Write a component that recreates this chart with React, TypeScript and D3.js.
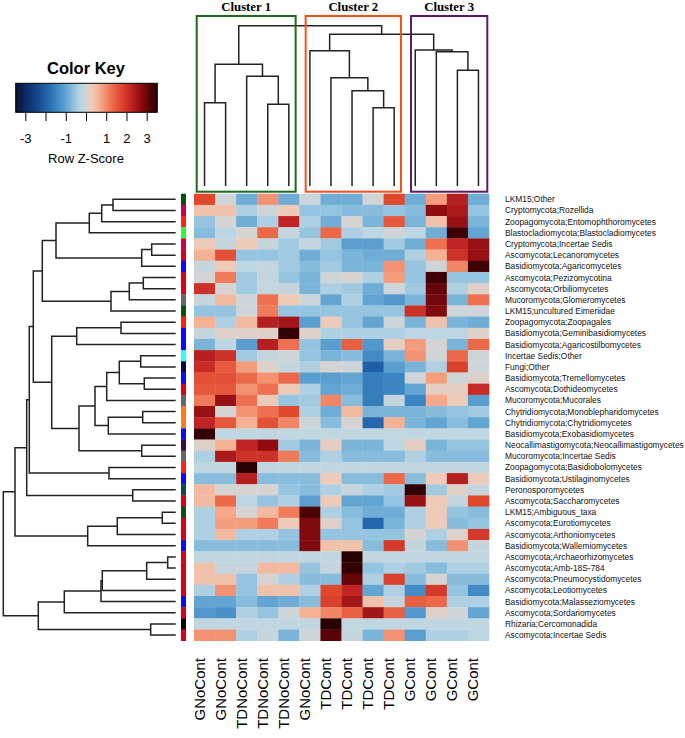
import React from 'react';
import * as d3 from 'd3';

const W = 685;
const H = 738;

const colLabels = ['GNoCont', 'GNoCont', 'TDNoCont', 'TDNoCont', 'TDNoCont', 'GNoCont', 'TDCont', 'TDCont', 'TDCont', 'TDCont', 'GCont', 'GCont', 'GCont', 'GCont'];

const rowLabels = [
  'LKM15;Other', 'Cryptomycota;Rozellida', 'Zoopagomycota;Entomophthoromycetes', 'Blastocladiomycota;Blastocladiomycetes',
  'Cryptomycota;Incertae Sedis', 'Ascomycota;Lecanoromycetes', 'Basidiomycota;Agaricomycetes', 'Ascomycota;Pezizomycotina',
  'Ascomycota;Orbiliomycetes', 'Mucoromycota;Glomeromycetes', 'LKM15;uncultured Eimeriidae', 'Zoopagomycota;Zoopagales',
  'Basidiomycota;Geminibasidiomycetes', 'Basidiomycota;Agaricostilbomycetes', 'Incertae Sedis;Other', 'Fungi;Other',
  'Basidiomycota;Tremellomycetes', 'Ascomycota;Dothideomycetes', 'Mucoromycota;Mucorales', 'Chytridiomycota;Monoblepharidomycetes',
  'Chytridiomycota;Chytridiomycetes', 'Basidiomycota;Exobasidiomycetes', 'Neocallimastigomycota;Neocallimastigomycetes', 'Mucoromycota;Incertae Sedis',
  'Zoopagomycota;Basidiobolomycetes', 'Basidiomycota;Ustilaginomycetes', 'Peronosporomycetes', 'Ascomycota;Saccharomycetes',
  'LKM15;Ambiguous_taxa', 'Ascomycota;Eurotiomycetes', 'Ascomycota;Arthoniomycetes', 'Basidiomycota;Wallemiomycetes',
  'Ascomycota;Archaeorhizomycetes', 'Ascomycota;Amb-18S-784', 'Ascomycota;Pneumocystidomycetes', 'Ascomycota;Leotiomycetes',
  'Basidiomycota;Malasseziomycetes', 'Ascomycota;Sordariomycetes', 'Rhizaria;Cercomonadida', 'Ascomycota;Incertae Sedis',
];

// phylum -> side bar colour
const groupColors: Record<string, string> = {
  'LKM15': '#0b4d13',
  'Cryptomycota': '#d5004d',
  'Zoopagomycota': '#ff2412',
  'Blastocladiomycota': '#2cff2c',
  'Ascomycota': '#d8001a',
  'Basidiomycota': '#0a0aff',
  'Mucoromycota': '#666666',
  'Incertae Sedis': '#2bffff',
  'Fungi': '#0a0a3a',
  'Chytridiomycota': '#ff7a1a',
  'Neocallimastigomycota': '#3a0a45',
  'Peronosporomycetes': '#0b4a45',
  'Rhizaria': '#000000',
};

// row z-scores, one row per taxon, columns in colLabels order
const zScores = [
  [1.7, -0.1, -0.9, 0.9, -0.9, -0.1, -0.9, -0.9, -0.1, 1.7, -0.9, 0.8, 2.3, -0.9],
  [0.4, 0.4, -0.4, -0.1, 0.3, -0.6, -0.6, -0.7, -0.7, -0.6, -0.7, 2.7, 2.4, -0.6],
  [-0.6, 0.0, -0.9, -0.4, 2.2, -0.4, -0.9, 0.0, -0.8, 1.5, -0.8, 0.4, 2.6, -0.8],
  [-0.7, -0.3, 0.0, 1.3, -0.2, -0.6, 1.3, -0.4, -0.3, -0.1, -0.3, -0.9, 3.3, -1.0],
  [0.3, -0.2, 0.3, -0.2, -0.5, -0.2, -0.5, -1.1, -1.1, -0.5, -0.9, 1.2, 2.2, 2.6],
  [0.6, 1.6, -0.6, -0.6, -0.5, -0.9, -0.6, -0.8, -0.9, -0.9, -0.4, 0.6, 2.0, 2.6],
  [-0.2, 0.3, -0.3, -0.2, -0.5, -0.7, -0.5, -0.8, -0.8, 0.9, -0.6, -0.1, 1.0, 3.3],
  [0.0, 1.1, -0.5, -0.2, -0.6, -0.8, -0.1, 0.0, -0.4, 0.8, -0.6, 3.3, -0.6, -0.6],
  [2.0, 0.0, -0.5, -0.2, -0.2, -0.8, -0.4, -0.5, -0.9, -0.1, -0.5, 3.0, -0.4, 0.1],
  [-0.2, 0.5, -0.1, 1.2, 0.3, -0.1, -1.0, -0.4, -1.0, -1.2, -0.8, 2.9, -0.8, 1.2],
  [-0.6, -0.6, -0.1, 1.1, -0.6, -0.6, -0.6, -0.6, -0.6, -0.6, 2.0, 2.8, -0.1, -0.1],
  [0.6, -0.4, 0.5, 2.3, 2.5, -1.1, 0.3, -0.6, -1.0, -0.1, -0.8, 0.4, -0.8, -0.9],
  [-0.2, 0.1, 0.1, 0.1, 3.4, 0.1, -0.4, -0.4, -0.4, -0.4, -0.3, -0.3, -0.3, 0.1],
  [-0.8, -0.3, -1.1, 2.3, 1.2, -0.6, -1.1, 1.4, -1.2, 0.2, 0.8, 0.0, -0.8, 1.3],
  [2.3, 2.0, -0.5, -0.2, -0.1, -0.6, -0.8, -0.7, -1.4, -0.8, 0.9, -0.1, 1.3, -0.1],
  [2.1, 1.5, 0.8, 0.1, -0.2, -0.4, 0.0, -0.1, -2.0, -1.1, -0.8, -0.4, 1.8, -0.1],
  [1.6, 1.6, 1.3, 0.9, 1.3, -1.1, -1.1, -1.0, -1.6, -1.5, -0.1, 0.8, -0.1, 0.1],
  [1.5, 1.5, 0.9, 1.2, 0.3, -0.4, -1.0, -0.9, -1.6, -1.5, -1.0, 0.2, 0.2, 2.1],
  [1.1, 2.6, 1.2, 0.3, -0.6, -0.5, 1.0, -0.7, -1.6, -0.2, -1.5, 0.7, 0.3, -1.1],
  [2.6, 0.0, 0.9, 1.2, 1.7, -0.4, -0.9, 0.5, -0.8, -0.8, -0.8, -0.7, -0.6, -0.5],
  [2.2, 1.5, 0.6, 1.6, 1.0, -0.1, -0.7, 0.0, -1.9, 0.6, -0.8, -1.0, -0.7, -1.0],
  [3.4, -0.25, -0.25, -0.25, -0.25, -0.25, -0.25, -0.25, -0.25, -0.25, -0.25, -0.25, -0.25, -0.25],
  [0.1, 0.6, 2.2, 2.7, -0.5, -0.8, 0.2, -0.8, -0.8, -0.3, 0.2, -0.8, -0.6, -0.6],
  [-0.4, 2.4, 2.0, 2.0, 1.1, -0.7, -0.4, -0.7, -0.7, -0.7, -0.4, -0.7, -0.7, -0.7],
  [-0.25, -0.25, 3.5, -0.25, -0.25, -0.25, -0.25, -0.25, -0.25, -0.25, -0.25, -0.25, -0.25, -0.25],
  [-0.7, -0.7, 2.3, -0.7, -0.7, -0.7, 0.3, -0.7, -0.7, 1.3, -0.7, 0.3, 2.3, 0.3],
  [0.5, 0.0, 0.0, 0.0, -0.6, -0.7, -0.4, -0.2, -0.4, -0.5, 3.4, -0.5, 0.1, -0.2],
  [0.5, 1.3, -0.3, -0.6, -0.4, -1.1, 0.3, -1.0, -1.0, -0.6, 2.6, 0.3, -0.2, 1.7],
  [-0.4, 0.7, 0.0, 0.5, 1.1, 3.2, -0.4, -0.7, -0.9, -0.9, -0.4, 0.3, -0.6, -0.7],
  [-0.4, 0.8, 0.8, 1.1, 0.3, 2.8, 0.1, -0.6, -1.9, -0.8, -0.4, 0.3, -0.7, -0.6],
  [-0.4, 0.5, -0.4, -0.4, -0.6, 2.8, -0.6, -0.6, -0.6, -0.6, 0.0, -0.4, 0.1, 1.9],
  [-0.7, -0.7, -0.7, -0.7, -0.7, 2.8, 0.4, 0.4, -0.7, 1.9, -0.2, -0.7, 0.9, -0.2],
  [-0.25, -0.25, -0.25, -0.25, -0.25, -0.25, -0.25, 3.5, -0.25, -0.25, -0.25, -0.25, -0.25, -0.25],
  [0.4, -0.2, -0.2, 0.5, 0.5, -0.6, -0.2, 3.4, -0.6, -0.4, -0.5, -0.7, -0.4, -0.4],
  [0.4, 0.4, -0.6, 0.0, -0.4, -0.7, -0.7, 3.0, -0.4, 1.8, -0.7, 0.0, -0.7, -0.7],
  [-0.4, 0.9, -0.6, 0.4, 0.4, -0.4, 1.7, 2.2, -1.0, -0.4, -1.4, 1.9, -0.6, -1.4],
  [-1.0, -1.0, -0.7, -1.0, -0.9, -0.7, 1.8, 2.5, 0.4, -0.2, 1.4, 1.3, -0.4, -0.4],
  [-1.2, -1.3, -0.4, -0.6, -0.1, 0.6, 1.0, 1.4, 2.5, 1.4, -1.2, 0.1, -0.1, -1.0],
  [-0.25, -0.25, -0.25, -0.25, -0.25, -0.25, 3.5, -0.25, -0.25, -0.25, -0.25, -0.25, -0.25, -0.25],
  [0.9, 0.9, -0.4, -0.2, -0.8, -0.1, 3.1, -0.2, -0.8, 0.9, -1.1, -0.4, -0.4, -0.3],
];

// hclust-style merges: negative = leaf (1-based), positive = earlier merge; third value = height
const colMerges: [number, number, number][] = [
  [-1, -2, 8.33], [-4, -5, 8.17], [-3, 2, 10.97], [1, 3, 12.17],
  [-9, -10, 7.83], [-8, 5, 9.53], [-7, 6, 10.83], [-6, 7, 13.53],
  [-13, -14, 11.57], [-12, 9, 13.43], [-11, 10, 13.6], [8, 11, 15.17], [4, 12, 16.03],
];

const rowMerges: [number, number, number][] = [
  [-1, -2, 6.27], [1, -3, 7.4], [2, -4, 8.64], [-5, -6, 2.4], [4, -7, 3.4], [3, 5, 11.97],
  [-8, -9, 3.24], [7, -10, 4.64], [8, -11, 6.47], [6, 9, 13.34],
  [-12, -13, 5.47], [11, -14, 9.9], [-15, -16, 3.5], [-17, -18, 3.14], [13, 14, 5.64], [15, -19, 6.9],
  [-20, -21, 3.3], [17, -22, 6.74], [16, 18, 8.07], [-23, -24, 3.4], [19, 20, 9.67], [12, 21, 12.4],
  [10, 22, 14.24], [-25, -26, 6.67], [23, 24, 14.64], [-27, -28, 4.3], [25, 26, 14.9],
  [-29, -30, 1.34], [28, -31, 5.84], [29, -32, 8.8], [27, 30, 16.07],
  [-33, -34, 0.8], [32, -35, 2.9], [33, -36, 7.34], [34, -37, 7.47], [35, -38, 11.14],
  [-39, -40, 2.5], [36, 37, 13.74], [31, 38, 17.24],
];

const keyTicks = [-3, -2, -1, 0, 1, 2, 3];
const keyTickLabels = ['-3', '', '-1', '', '1', '2', '3'];

const clusters = [
  { name: 'Cluster 1', from: 0, to: 4, color: '#1d6a1d' },
  { name: 'Cluster 2', from: 5, to: 9, color: '#f0521c' },
  { name: 'Cluster 3', from: 10, to: 13, color: '#5c1a66' },
];

const colorStops = [-3.5, -3.0, -2.0, -1.5, -1.0, -0.6, -0.3, 0, 0.3, 0.7, 1.2, 1.7, 2.2, 2.7, 3.2, 3.5];
const colorRange = ['#061230', '#0c2a66', '#1f5fa8', '#3a85c2', '#62a4d2', '#94c4e0', '#bcd6e4', '#d6d4d2',
  '#eecab8', '#f6a888', '#ee7050', '#e0482e', '#c02424', '#8e0c10', '#4a0005', '#280002'];

const color = d3.scaleLinear<string>().domain(colorStops).range(colorRange).interpolate(d3.interpolateRgb).clamp(true);

const x = d3.scaleBand<number>().domain(d3.range(colLabels.length)).range([194, 489]);
const y = d3.scaleBand<number>().domain(d3.range(rowLabels.length)).range([193.7, 640.7]);

const colH = d3.scaleLinear().domain([0, 10]).range([186, 86]);
const rowH = d3.scaleLinear().domain([0, 10]).range([175.7, 75.7]);

const keyX = d3.scaleLinear().domain([-3.5, 3.5]).range([15.7, 157.3]);

// turn merges into elbow paths; pos(leaf) gives the leaf position
function dendroPaths(merges: [number, number, number][], leafPos: (i: number) => number,
  toPx: (h: number) => number, vertical: boolean) {
  const nodes: { p: number; h: number }[] = [];
  const get = (ref: number) => (ref < 0 ? { p: leafPos(-ref - 1), h: 0 } : nodes[ref - 1]);
  const paths: string[] = [];
  merges.forEach(([a, b, h]) => {
    const l = get(a);
    const r = get(b);
    nodes.push({ p: (l.p + r.p) / 2, h });
    if (vertical) {
      paths.push(`M${l.p},${toPx(l.h)}V${toPx(h)}H${r.p}V${toPx(r.h)}`);
    } else {
      paths.push(`M${toPx(l.h)},${l.p}H${toPx(h)}V${r.p}H${toPx(r.h)}`);
    }
  });
  return paths;
}

const colPaths = dendroPaths(colMerges, (i) => x(i)! + x.bandwidth() / 2, colH, true);
const rowPaths = dendroPaths(rowMerges, (i) => y(i)! + y.bandwidth() / 2, rowH, false);

const sans = "'Liberation Sans', Arial, sans-serif";

export default function App() {
  const gradStops = d3.range(0, 1.0001, 0.05).map((t) => ({ t, c: color(-3.5 + 7 * t) }));
  return (
    <svg width={W} height={H} style={{ position: 'absolute', left: 0, top: 0, background: '#fff' }}>
      <defs>
        <linearGradient id="keygrad" x1="0" x2="1" y1="0" y2="0">
          {gradStops.map((s, i) => <stop key={i} offset={s.t} stopColor={s.c} />)}
        </linearGradient>
      </defs>

      {/* colour key */}
      <text x={86} y={73.5} textAnchor="middle" fontFamily={sans} fontWeight="bold" fontSize={16.5}>Color Key</text>
      <rect x={keyX(-3.5)} y={83.3} width={keyX(3.5) - keyX(-3.5)} height={29} fill="url(#keygrad)" stroke="#000" strokeWidth={1} />
      {keyTicks.map((t, i) => (
        <g key={i}>
          <line x1={keyX(t)} x2={keyX(t)} y1={112.3} y2={121} stroke="#000" strokeWidth={1} />
          <text x={keyX(t)} y={143.3} textAnchor="middle" fontFamily={sans} fontSize={13}>{keyTickLabels[i]}</text>
        </g>
      ))}
      <text x={86} y={163.3} textAnchor="middle" fontFamily={sans} fontSize={13}>Row Z-Score</text>

      {/* heatmap cells */}
      {zScores.map((row, r) => row.map((v, c) => (
        <rect key={`${r}-${c}`} x={x(c)} y={y(r)} width={x.bandwidth() + 0.3} height={y.bandwidth() + 0.3} fill={color(v)} />
      )))}

      {/* row side colours */}
      {rowLabels.map((lab, r) => (
        <rect key={r} x={181} y={y(r)} width={5} height={y.bandwidth() + 0.3} fill={groupColors[lab.split(';')[0]]} />
      ))}

      {/* dendrograms */}
      {colPaths.map((d, i) => <path key={i} d={d} fill="none" stroke="#222" strokeWidth={1.5} />)}
      {rowPaths.map((d, i) => <path key={i} d={d} fill="none" stroke="#222" strokeWidth={1.5} />)}

      {/* cluster boxes */}
      {clusters.map((cl, i) => {
        const x0 = x(cl.from)! + (i === 0 ? 2.7 : 6.3);
        const x1 = x(cl.to)! + x.bandwidth() - (i === 2 ? 1.7 : 3.7);
        return (
          <g key={i}>
            <rect x={x0} y={16} width={x1 - x0} height={175.7} fill="none" stroke={cl.color} strokeWidth={2} />
            <text x={(x0 + x1) / 2} y={11} textAnchor="middle" fontFamily="'Liberation Serif', 'Times New Roman', serif"
              fontWeight="bold" fontSize={12.8}>{cl.name}</text>
          </g>
        );
      })}

      {/* row labels */}
      {rowLabels.map((lab, r) => (
        <text key={r} x={505} y={y(r)! + y.bandwidth() / 2 + 3} fontFamily={sans} fontSize={8.4} fill="#111">{lab}</text>
      ))}

      {/* column labels */}
      {colLabels.map((lab, c) => {
        const cx = x(c)! + x.bandwidth() / 2;
        return (
          <text key={c} transform={`translate(${cx},658) rotate(-90)`} textAnchor="end" fontFamily={sans} fontSize={15}>{lab}</text>
        );
      })}
    </svg>
  );
}
